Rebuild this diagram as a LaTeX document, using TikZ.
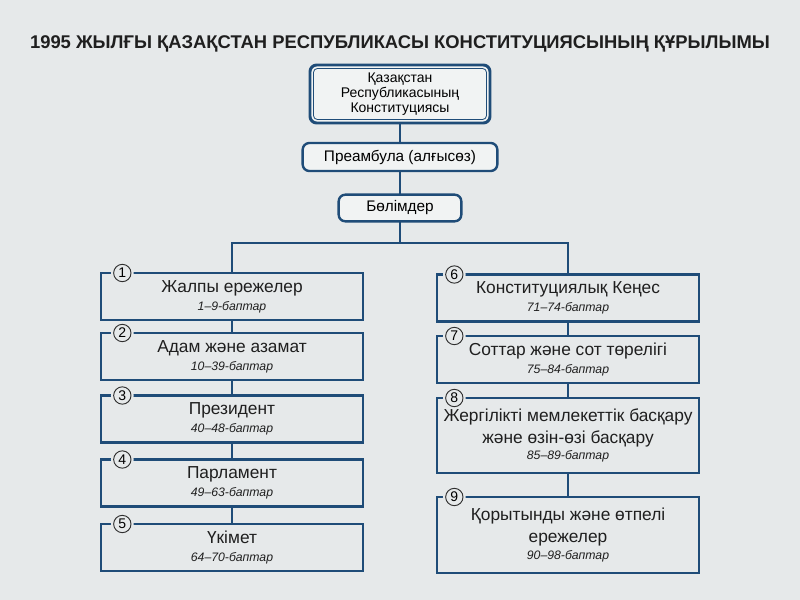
\documentclass[tikz,border=0pt]{standalone}
\usepackage{fontspec}
\setmainfont{Liberation Sans}
\definecolor{pagebg}{HTML}{E6E9EA}
\definecolor{navy}{HTML}{1F4C78}
\definecolor{boxfill}{HTML}{F1F3F3}
\definecolor{numgray}{HTML}{2F2F2F}
\newcommand{\bapt}[1]{{\fontsize{9.2}{11}\selectfont\itshape #1}}

\begin{document}
\begin{tikzpicture}[x=0.75pt, y=-0.75pt,
  hdbox/.style={draw=navy, line width=1.8pt, rounded corners=5pt, fill=boxfill, align=center, outer sep=0pt},
  partbox/.style={draw=navy, line width=1.7pt, minimum width=196.5pt, minimum height=35.25pt, align=center, outer sep=0pt, inner sep=1pt, text=black!88, font=\fontsize{13}{16.5}\selectfont},
  numc/.style={circle, draw=numgray, line width=0.7pt, fill=pagebg, preaction={draw=pagebg, line width=4pt}, inner sep=0pt, minimum size=13pt, font=\fontsize{10.5}{10.5}\selectfont},
  link/.style={navy, line width=1.4pt}]
\fill[pagebg] (0,0) rectangle (800,600);
\node[font=\fontsize{13.8}{16}\selectfont\bfseries, text=black!88] (title) at (400,44) {1995 ЖЫЛҒЫ ҚАЗАҚСТАН РЕСПУБЛИКАСЫ КОНСТИТУЦИЯСЫНЫҢ ҚҰРЫЛЫМЫ};

% top of the tree
\node[hdbox, line width=2.2pt, minimum width=135pt, minimum height=43.5pt, font=\fontsize{10.5}{11.3}\selectfont] (konst) at (400,94) {Қазақстан\\Республикасының\\Конституциясы};
\draw[navy, line width=0.6pt, rounded corners=3pt] ([shift={(2.6pt,-2.6pt)}]konst.north west) rectangle ([shift={(-2.6pt,2.6pt)}]konst.south east);
\node[hdbox, minimum width=146pt, minimum height=21pt, font=\fontsize{11.5}{13}\selectfont] (pream) at (400,157) {Преамбула (алғысөз)};
\node[hdbox, minimum width=92pt, minimum height=20pt, font=\fontsize{11.5}{13}\selectfont] (bolim) at (400,208) {Бөлімдер};
\coordinate (split) at (400,243);

% left column
\node[partbox] (b1) at (232,296.5) {Жалпы ережелер\\[-3pt]\bapt{1–9-баптар}};
\node[partbox] (b2) at (232,356.5) {Адам және азамат\\[-3pt]\bapt{10–39-баптар}};
\node[partbox] (b3) at (232,419) {Президент\\[-3pt]\bapt{40–48-баптар}};
\node[partbox] (b4) at (232,483) {Парламент\\[-3pt]\bapt{49–63-баптар}};
\node[partbox] (b5) at (232,547.5) {Үкімет\\[-3pt]\bapt{64–70-баптар}};

% right column
\node[partbox] (b6) at (568,298) {Конституциялық Кеңес\\[-3pt]\bapt{71–74-баптар}};
\node[partbox] (b7) at (568,359.5) {Соттар және сот төрелігі\\[-3pt]\bapt{75–84-баптар}};
\node[partbox, minimum height=56.25pt] (b8) at (568,435.5) {Жергілікті мемлекеттік басқару\\және өзін-өзі басқару\\[-4pt]\bapt{85–89-баптар}};
\node[partbox, minimum height=57pt] (b9) at (568,535) {Қорытынды және өтпелі\\ережелер\\[-4pt]\bapt{90–98-баптар}};

\draw[link] (konst) -- (pream);
\draw[link] (pream) -- (bolim);
\draw[link] (bolim) -- (split);
\draw[link] (split) -| (b1);
\draw[link] (split) -| (b6);
\draw[link] (b1) -- (b2);
\draw[link] (b2) -- (b3);
\draw[link] (b3) -- (b4);
\draw[link] (b4) -- (b5);
\draw[link] (b6) -- (b7);
\draw[link] (b7) -- (b8);
\draw[link] (b8) -- (b9);

% numbers on the top edges
\foreach \i in {1,...,5}
  \node[numc] (n\i) at ([xshift=16pt]b\i.north west) {\i};
\foreach \i in {6,...,9}
  \node[numc] (n\i) at ([xshift=13pt]b\i.north west) {\i};
\end{tikzpicture}
\end{document}
